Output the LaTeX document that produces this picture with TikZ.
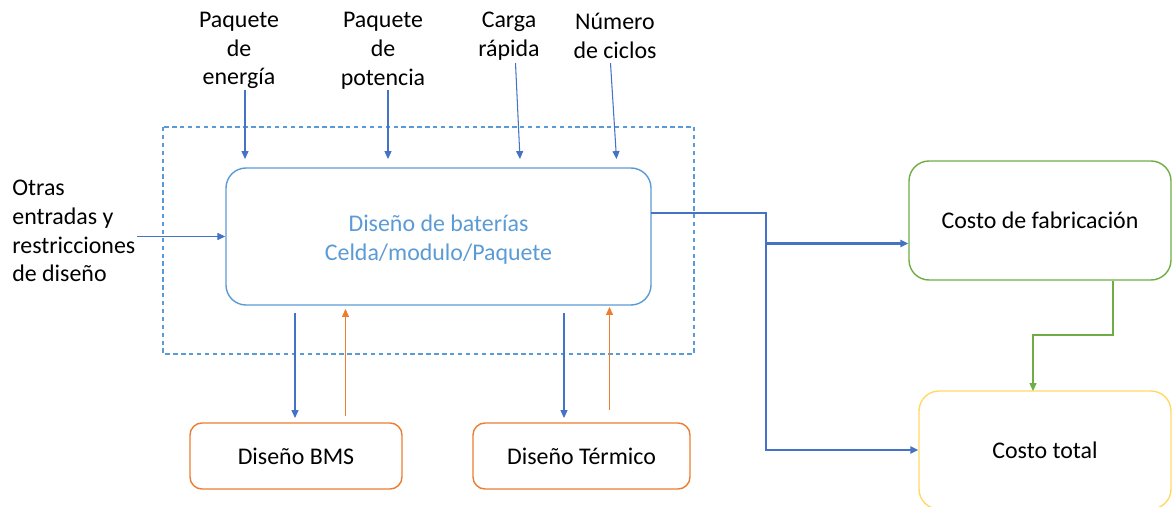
\documentclass[tikz,border=0pt]{standalone}
\usepackage{fontspec}
\setmainfont{Carlito}
\usetikzlibrary{arrows.meta,positioning}
\definecolor{linkblue}{RGB}{68,114,196}
\definecolor{boxblue}{RGB}{91,155,213}
\definecolor{subrange}{RGB}{237,125,49}
\definecolor{fabgreen}{RGB}{112,173,71}
\definecolor{totyellow}{RGB}{255,217,102}

\begin{document}
\begin{tikzpicture}[font=\fontsize{13.6}{16.4}\selectfont,
    >={Triangle[length=4.5pt,width=4pt]},
    mainbox/.style={draw=boxblue, line width=0.8pt, rounded corners=0.4cm,
      minimum width=8.5cm, minimum height=2.74cm, inner sep=0pt,
      align=center, text=boxblue},
    subbox/.style={draw=subrange, line width=0.8pt, rounded corners=0.24cm,
      minimum height=1.32cm, inner sep=0pt},
    costbox/.style={line width=0.8pt, rounded corners=0.4cm,
      minimum width=5.24cm, minimum height=2.38cm, inner sep=0pt},
    inlbl/.style={align=center, inner sep=0pt},
    thinarrow/.style={->, linkblue, line width=0.6pt}]

  \useasboundingbox (0,0) rectangle (23.44,10.12);
  \clip (0,0) rectangle (23.44,10.12);

  %% ── Design boundary ─────────────────────────────────────────────
  \draw[boxblue, line width=0.6pt, dash pattern=on 2.5pt off 2pt]
    (3.26,7.58) rectangle (13.88,3.04);

  %% ── Blocks ──────────────────────────────────────────────────────
  \node[mainbox] (main) at (8.77,5.39) {};
  \node[text=boxblue, align=center] (maintxt) at (8.77,5.33)
    {Diseño de baterías\\Celda/modulo/Paquete};
  \node[subbox, minimum width=4.24cm] (bms) at (5.92,1.00) {Diseño BMS};
  \node[subbox, minimum width=4.34cm] (term) at (11.63,1.00) {Diseño Térmico};
  \node[costbox, draw=fabgreen] (fab) at (20.80,5.71) {Costo de fabricación};
  \node[costbox, draw=totyellow, minimum width=5.04cm, minimum height=2.36cm]
    (tot) at (20.90,1.12) {Costo total};

  %% ── Input labels ────────────────────────────────────────────────
  \node[inlbl] (energia) at (4.78,9.11) {Paquete\\de\\energía};
  \node[inlbl] (potencia) at (7.66,9.11) {Paquete\\de\\potencia};
  \node[inlbl] (carga) at (10.18,9.40) {Carga\\rápida};
  \node[inlbl] (ciclos) at (12.30,9.40) {Número\\de ciclos};
  \node[inlbl, align=left, anchor=west] (otras) at (0.24,5.50)
    {Otras\\entradas y\\restricciones\\de diseño};

  %% ── Input arrows ────────────────────────────────────────────────
  \coordinate (e1) at (4.90,8.32);   \coordinate (e2) at (4.90,6.94);
  \coordinate (p1) at (7.76,8.32);   \coordinate (p2) at (7.76,6.94);
  \coordinate (c1) at (10.31,8.86);  \coordinate (c2) at (10.40,6.94);
  \coordinate (n1) at (12.21,8.86);  \coordinate (n2) at (12.33,6.94);
  \coordinate (o1) at (2.74,5.39);
  \draw[thinarrow] (e1) -- (e2);
  \draw[thinarrow] (p1) -- (p2);
  \draw[thinarrow] (c1) -- (c2);
  \draw[thinarrow] (n1) -- (n2);
  \draw[thinarrow] (o1) -- (main.west);

  %% ── Sub-design loops ────────────────────────────────────────────
  \foreach \x/\ya/\yb in {5.90/3.86/1.76, 11.28/3.86/1.76}{
    \draw[thinarrow] (\x,\ya) -- (\x,\yb);
  }
  \foreach \x/\ya/\yb in {6.91/1.80/3.94, 12.19/1.92/3.98}{
    \draw[->, subrange, line width=0.6pt] (\x,\ya) -- (\x,\yb);
  }

  %% ── Cost links ──────────────────────────────────────────────────
  \coordinate (out) at (13.02,5.86);
  \coordinate (jn) at (15.32,5.25);
  \draw[->, linkblue, line width=1.3pt]
    (out) -- (15.32,5.86) -- (jn) |- (tot.west);
  \draw[->, linkblue, line width=1.3pt] (jn) -- (jn -| fab.west);
  \coordinate (g1) at (22.26,3.42);
  \draw[->, fabgreen, line width=0.6pt]
    (fab.south -| g1) -- (g1) -- (20.66,3.42) -- (20.66,2.30);

\end{tikzpicture}
\end{document}
